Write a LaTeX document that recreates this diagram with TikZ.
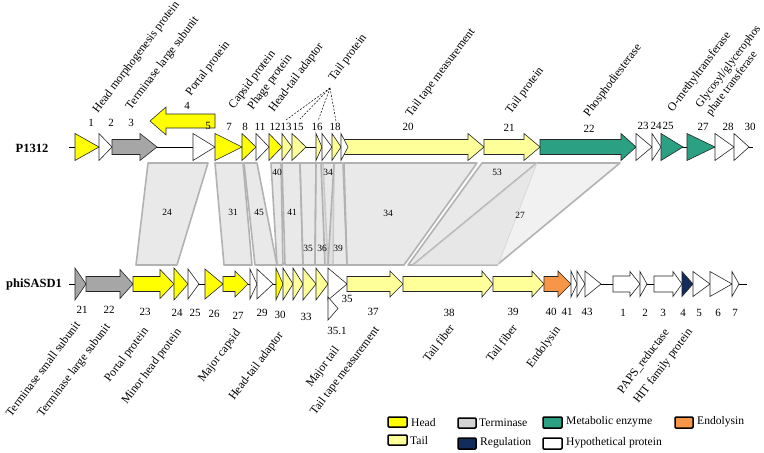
\documentclass[tikz,border=0pt]{standalone}
\usepackage{fontspec}
\setmainfont{Liberation Serif}
\definecolor{cHead}{HTML}{FFFF00}
\definecolor{cTail}{HTML}{FFFF99}
\definecolor{cTerm}{HTML}{A6A6A6}
\definecolor{cTermL}{HTML}{D4D4D4}
\definecolor{cMet}{HTML}{2BA083}
\definecolor{cReg}{HTML}{122C5C}
\definecolor{cEndo}{HTML}{F79646}
\tikzset{
  gene/.style={draw=black!85, line width=0.6pt, line join=miter},
  blk/.style={draw=black!30, line width=1.6pt, fill=black!14, fill opacity=0.6, line join=round},
  lab/.style={font=\fontsize{11.8}{13.5}\selectfont, inner sep=0pt},
  tl/.style={lab, rotate=53, anchor=south west},
  bl/.style={lab, rotate=53, anchor=north east},
  num/.style={font=\fontsize{11}{12}\selectfont, inner sep=0pt},
  bnum/.style={font=\fontsize{9.5}{10}\selectfont, inner sep=0pt},
  leg/.style={draw=black, line width=1.5pt, rounded corners=1pt},
  legt/.style={font=\fontsize{11.6}{13}\selectfont, inner sep=0pt, anchor=west},
  gname/.style={font=\bfseries\fontsize{12.5}{14}\selectfont, inner sep=0pt}
}
\newcommand\GTri[5]{\filldraw[gene,fill=#5] (#1,#3-#4) -- (#2,#3) -- (#1,#3+#4) -- cycle;}
\newcommand\GArr[7]{\filldraw[gene,fill=#7] (#1,#4-#6) -- (#3,#4-#6) -- (#3,#4-#5) -- (#2,#4) -- (#3,#4+#5) -- (#3,#4+#6) -- (#1,#4+#6) -- cycle;}
\begin{document}
\begin{tikzpicture}[x=1pt,y=-1pt]
\useasboundingbox (0,0) rectangle (764,453);
% ---------- comparison blocks ----------
\filldraw[blk] (148,163) -- (208,163) -- (177,265) -- (136,265) -- cycle;
\filldraw[blk] (215,163) -- (243,163) -- (252,265) -- (224,265) -- cycle;
\filldraw[blk] (244,163) -- (257,163) -- (277,265) -- (255,265) -- cycle;
\filldraw[blk] (271,163) -- (281,163) -- (283,265) -- (277,265) -- cycle;
\filldraw[blk] (282,163) -- (300,163) -- (303,265) -- (285,265) -- cycle;
\filldraw[blk] (300,163) -- (316,163) -- (315,265) -- (303,265) -- cycle;
\filldraw[blk] (316,163) -- (323,163) -- (328,265) -- (315,265) -- cycle;
\filldraw[blk] (321,163) -- (334,163) -- (333,265) -- (325,265) -- cycle;
\filldraw[blk] (334,163) -- (343,163) -- (347,265) -- (328,265) -- cycle;
\filldraw[blk] (344,163) -- (477,163) -- (404,265) -- (347,265) -- cycle;
\filldraw[blk] (482,163) -- (537,163) -- (413,265) -- (408,265) -- cycle;
\filldraw[blk, fill=black!9] (537,163) -- (620,163) -- (497,265) -- (413,265) -- cycle;
\fill[black!12, opacity=0.6] (537,163) -- (498,265) -- (413,265) -- cycle;
\draw[black!15, line width=0.8pt] (537,163) -- (498,265);
\node[bnum] (b24) at (167,212) {24};
\node[bnum] (b31) at (233,212) {31};
\node[bnum] (b45) at (259,212) {45};
\node[bnum] (b40) at (277,172) {40};
\node[bnum] (b41) at (292,212) {41};
\node[bnum] (b35) at (308,248) {35};
\node[bnum] (b36) at (322,248) {36};
\node[bnum] (b39) at (338,248) {39};
\node[bnum] (b34s) at (328,172) {34};
\node[bnum] (b34) at (388,213) {34};
\node[bnum] (b53) at (497,172) {53};
\node[bnum] (b27) at (520,215) {27};
% ---------- backbones ----------
\draw[line width=0.6pt] (69,147) -- (753,147);
\draw[line width=0.6pt] (69,284) -- (747,284);
% ---------- P1312 genes ----------
\GTri{75}{99}{147}{13.5}{cHead}
\GTri{99}{112}{147}{13.5}{white}
\GArr{112}{157}{140}{147}{13.5}{7.5}{cTerm}
\GArr{215}{150}{166}{121}{14}{7}{cHead}
\GTri{193}{215}{147}{13.5}{white}
\GTri{215}{242}{147}{13.5}{cHead}
\GTri{242}{256}{147}{13.5}{cHead}
\GTri{256}{269}{147}{13.5}{white}
\GTri{269}{282}{147}{13.5}{cHead}
\GTri{282}{292}{147}{13.5}{cTail}
\GTri{292}{306}{147}{13.5}{cTail}
\GTri{316}{322}{147}{13.5}{cTail}
\GTri{322}{332}{147}{13.5}{white}
\GArr{344}{484}{468}{147}{13.5}{7.5}{cTail}
\GTri{332}{341}{147}{13.5}{cTail}
\GTri{341}{348}{147}{13.5}{white}
\GArr{484}{540}{524}{147}{13.5}{7.5}{cTail}
\GArr{540}{636}{621}{147}{13.5}{7.5}{cMet}
\GTri{636}{652}{147}{13.5}{white}
\GTri{652}{661}{147}{13.5}{white}
\GTri{661}{683}{147}{13.5}{cMet}
\GTri{687}{715}{147}{13.5}{cMet}
\GTri{715}{734}{147}{13.5}{white}
\GTri{734}{749}{147}{13.5}{white}
% ---------- phiSASD1 genes ----------
\GTri{75}{86}{284}{16}{cTerm}
\GArr{86}{133}{120}{284}{14.5}{7.5}{cTerm}
\GArr{133}{174}{160}{284}{14.5}{7.5}{cHead}
\GTri{174}{188}{284}{16}{cHead}
\GTri{188}{199}{284}{15}{white}
\GTri{205}{223}{284}{15}{cHead}
\GArr{223}{248}{235}{284}{13}{7.5}{cHead}
\GTri{250}{257}{284}{15}{white}
\GTri{257}{273}{284}{15}{white}
\GTri{276}{283}{284}{16}{cHead}
\GTri{283}{293}{284}{16}{cTail}
\GTri{293}{303}{284}{16}{cTail}
\GTri{303}{316}{284}{16}{cTail}
\GTri{316}{328}{284}{16}{cTail}
\GTri{328}{347}{284}{16}{white}
\GTri{328}{338}{308.5}{11.5}{white}
\GArr{347}{403}{390}{284}{13}{7.5}{cTail}
\GArr{403}{493}{482}{284}{13}{7.5}{cTail}
\GArr{493}{544}{532}{284}{13}{7.5}{cTail}
\GArr{544}{571}{558}{284}{13}{7.5}{cEndo}
\GTri{571}{577}{284}{13}{white}
\GTri{577}{585}{284}{13}{white}
\GTri{585}{601}{284}{13}{white}
\GArr{613}{640}{630}{284}{12.5}{8}{white}
\GTri{640}{647}{284}{12.5}{white}
\GArr{654}{682}{673}{284}{12.5}{8}{white}
\GTri{682}{693}{284}{12.5}{cReg}
\GTri{693}{710}{284}{12.5}{white}
\GTri{710}{732}{284}{12.5}{white}
\GTri{732}{739}{284}{12.5}{white}
% ---------- genome names ----------
\node[gname] (g1) at (32,148) {P1312};
\node[gname] (g2) at (34,284) {phiSASD1};
% ---------- top numbers ----------
\node[num] (t1) at (91,123) {1};
\node[num] (t2) at (111,123) {2};
\node[num] (t3) at (131,123) {3};
\node[num] (t4) at (187,106) {4};
\node[num] (t5) at (208,126) {5};
\node[num] (t7) at (229,127) {7};
\node[num] (t8) at (245,127) {8};
\node[num] (t11) at (260,127) {11};
\node[num] (t12) at (275,127) {12};
\node[num] (t13) at (286,127) {13};
\node[num] (t15) at (298,127) {15};
\node[num] (t16) at (317,127) {16};
\node[num] (t18) at (335,127) {18};
\node[num] (t20) at (408,127) {20};
\node[num] (t21) at (509,128) {21};
\node[num] (t22) at (589,129) {22};
\node[num] (t23) at (643,126) {23};
\node[num] (t24) at (656,126) {24};
\node[num] (t25) at (668,126) {25};
\node[num] (t27) at (703,127) {27};
\node[num] (t28) at (728,127) {28};
\node[num] (t30) at (750,127) {30};
% ---------- bottom numbers ----------
\node[num] (u21) at (82,310) {21};
\node[num] (u22) at (109,310) {22};
\node[num] (u23) at (145,312) {23};
\node[num] (u24) at (177,313) {24};
\node[num] (u25) at (195,313) {25};
\node[num] (u26) at (214,314) {26};
\node[num] (u27) at (238,316) {27};
\node[num] (u29) at (262,313) {29};
\node[num] (u30) at (280,315) {30};
\node[num] (u33) at (306,317) {33};
\node[num] (u35) at (347,299) {35};
\node[num] (u351) at (337,331) {35.1};
\node[num] (u37) at (373,312) {37};
\node[num] (u38) at (449,313) {38};
\node[num] (u39) at (513,312) {39};
\node[num] (u40) at (551,312) {40};
\node[num] (u41) at (567,312) {41};
\node[num] (u43) at (587,312) {43};
\node[num] (v1) at (623,313) {1};
\node[num] (v2) at (645,313) {2};
\node[num] (v3) at (663,313) {3};
\node[num] (v4) at (683,313) {4};
\node[num] (v5) at (699,313) {5};
\node[num] (v6) at (718,313) {6};
\node[num] (v7) at (735,313) {7};
% ---------- top labels ----------
\node[tl] (L1) at (100,115) {Head morphogenesis protein};
\node[tl] (L2) at (133,112) {Terminase large subunit};
\node[tl] (L3) at (193,98) {Portal protein};
\node[tl] (L4) at (236,111) {Capsid protein};
\node[tl] (L5) at (255,112) {Phage protein};
\node[tl] (L6) at (276,114) {Head-tail adaptor};
\node[tl] (L7) at (336,83) {Tail protein};
\node[tl] (L8) at (413,119) {Tail tape measurement};
\node[tl] (L9) at (513,116) {Tail protein};
\node[tl] (L10) at (591,119) {Phosphodiesterase};
\node[tl] (L11) at (675,114) {O-methyltransferase};
\node[tl, align=left, font=\fontsize{11.4}{13}\selectfont] (L12) at (713,118) {Glycosyl/glycerophos\\phate transferase};
\coordinate (apex) at (330,88);
\coordinate (d13) at (286,120);
\coordinate (d15) at (300,119);
\coordinate (d16) at (318,121);
\coordinate (d18) at (336,121);
\foreach \c in {d13,d15,d16,d18} \draw[line width=0.5pt, dash pattern=on 2pt off 1.5pt] (apex) -- (\c);
% ---------- bottom labels ----------
\node[bl] (M1) at (74,320) {Terminase small subunit};
\node[bl] (M2) at (104,322) {Terminase large subunit};
\node[bl] (M3) at (142,326) {Portal protein};
\node[bl] (M4) at (175,327) {Minor head protein};
\node[bl] (M5) at (234,328) {Major capsid};
\node[bl] (M6) at (277,330) {Head-tail adaptor};
\node[bl] (M7) at (333,345) {Major tail};
\node[bl] (M8) at (373,325) {Tail tape measurement};
\node[bl] (M9) at (448,323) {Tail fiber};
\node[bl] (M10) at (511,323) {Tail fiber};
\node[bl] (M11) at (554,325) {Endolysin};
\node[bl] (M12) at (663,327) {PAPS\_reductase};
\node[bl] (M13) at (686,327) {HIT family protein};
% ---------- legend ----------
\filldraw[leg, fill=cHead] (388,417) rectangle (407,427);
\node[legt] (lh) at (411,423) {Head};
\filldraw[leg, fill=cTail] (388,435) rectangle (407,445);
\node[legt] (lt) at (410,441) {Tail};
\filldraw[leg, fill=cTermL] (458,418) rectangle (476,428);
\node[legt] (lte) at (479,423) {Terminase};
\filldraw[leg, fill=cReg] (458,438) rectangle (476,449);
\node[legt] (lr) at (480,443) {Regulation};
\filldraw[leg, fill=cMet] (543,417) rectangle (562,428);
\node[legt] (lm) at (566,422) {Metabolic enzyme};
\filldraw[leg, fill=white] (543,438) rectangle (562,449);
\node[legt] (lhy) at (566,443) {Hypothetical protein};
\filldraw[leg, fill=cEndo] (675,417) rectangle (693,428);
\node[legt] (le) at (697,422) {Endolysin};
\end{tikzpicture}
\end{document}
